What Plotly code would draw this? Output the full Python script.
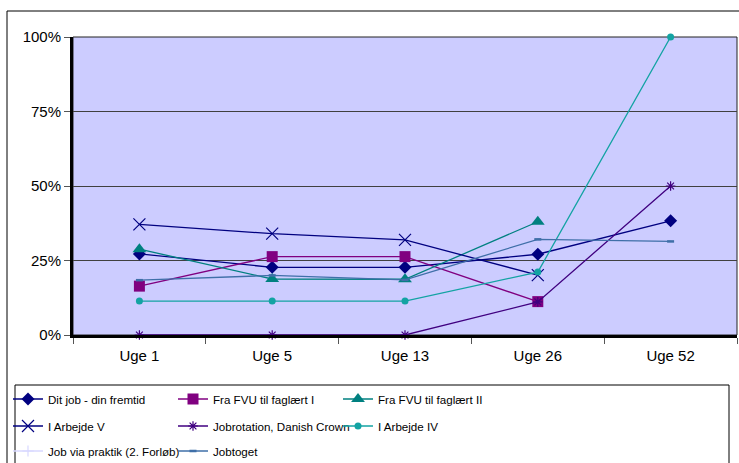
import plotly.graph_objects as go

categories = ["Uge 1", "Uge 5", "Uge 13", "Uge 26", "Uge 52"]

dit_job = [0.272, 0.227, 0.227, 0.271, 0.383]
fvu_1 = [0.164, 0.263, 0.263, 0.112, None]
fvu_2 = [0.288, 0.188, 0.187, 0.380, None]
arbejde_v = [0.371, 0.340, 0.319, 0.201, None]
jobrotation = [0.0, 0.0, 0.0, 0.111, 0.50]
arbejde_iv = [0.114, 0.114, 0.114, 0.211, 1.0]
job_praktik = [None, None, None, None, None]
jobtoget = [0.184, 0.200, 0.185, 0.321, 0.314]

y_ticks = [0, 0.25, 0.5, 0.75, 1.0]
y_tick_labels = ["0%", "25%", "50%", "75%", "100%"]

W, H = 739, 463
L, R, T, B = 73, 2, 37, 128
PW, PH = W - L - R, H - T - B

def px_x(p):
    return (p - L) / PW

def px_y(p):
    return (H - B - p) / PH

FONT = "Liberation Sans, Arial, sans-serif"
LEG_FONT = "Liberation Sans Narrow, Arial Narrow, Liberation Sans, Arial, sans-serif"

series = [
    ("Dit job - din fremtid", dit_job, "#000080", "diamond", 10, 1.3, "legend"),
    ("Fra FVU til faglært I", fvu_1, "#800080", "square", 11, 1.3, "legend"),
    ("Fra FVU til faglært II", fvu_2, "#008080", "triangle-up", 12, 1.3, "legend"),
    ("I Arbejde V", arbejde_v, "#000080", "x-thin-open", 12, 1.3, "legend2"),
    ("Jobrotation, Danish Crown", jobrotation, "#400080", "asterisk-open", 8, 1.3, "legend2"),
    ("I Arbejde IV", arbejde_iv, "#13A3A3", "circle", 7, 1.3, "legend2"),
    ("Job via praktik (2. Forløb)", job_praktik, "#D8D8FF", "cross-thin-open", 8, 1.3, "legend3"),
    ("Jobtoget", jobtoget, "#3F6FA8", "line-ew-open", 5, 1.3, "legend3"),
]

fig = go.Figure()
for name, vals, color, sym, size, lw, leg in series:
    open_sym = sym.endswith("open")
    fig.add_trace(go.Scatter(
        x=categories, y=vals, name=name, mode="lines+markers",
        line=dict(color=color, width=lw),
        marker=dict(symbol=sym, size=size, color=color,
                    line=dict(color=color, width=(2.5 if sym == "line-ew-open" else 1.2) if open_sym else 0)),
        legend=leg, cliponaxis=False, connectgaps=False,
    ))

shapes = [
    dict(type="rect", xref="paper", yref="paper", x0=px_x(7), x1=px_x(760), y0=px_y(480), y1=px_y(11),
         line=dict(color="black", width=1), fillcolor="rgba(0,0,0,0)", layer="below"),
    dict(type="rect", xref="paper", yref="paper", x0=px_x(15), x1=px_x(729), y0=px_y(475), y1=px_y(385),
         line=dict(color="black", width=1), fillcolor="rgba(0,0,0,0)", layer="below"),
    dict(type="rect", xref="paper", yref="paper", x0=0, x1=1, y0=0, y1=1,
         line=dict(color="#222222", width=1), fillcolor="rgba(0,0,0,0)", layer="below"),
]

leg_common = dict(orientation="h", xanchor="left", yanchor="middle",
                  font=dict(family=LEG_FONT, size=11.6, color="black"),
                  bgcolor="rgba(0,0,0,0)", borderwidth=0,
                  entrywidth=120, entrywidthmode="pixels", itemclick=False)

fig.update_layout(
    width=W, height=H,
    margin=dict(l=L, r=R, t=T, b=B, pad=0, autoexpand=False),
    paper_bgcolor="white",
    plot_bgcolor="#CCCCFF",
    font=dict(family=FONT, size=15, color="black"),
    showlegend=True,
    legend=dict(x=px_x(8), y=px_y(399), **leg_common),
    legend2=dict(x=px_x(8), y=px_y(426), **leg_common),
    legend3=dict(x=px_x(8), y=px_y(451), **leg_common),
    shapes=shapes,
    xaxis=dict(
        type="category", range=[-0.5, 4.5], showgrid=False,
        showline=True, linecolor="black", linewidth=3,
        ticks="outside", ticklen=6, tickwidth=1, tickcolor="#555555",
        tickson="boundaries", zeroline=False, ticklabelstandoff=5,
        tickfont=dict(family=FONT, size=15, color="black"),
    ),
    yaxis=dict(
        range=[0, 1], tickvals=y_ticks, ticktext=y_tick_labels,
        showgrid=True, gridcolor="#404040", gridwidth=1,
        showline=True, linecolor="black", linewidth=3,
        ticks="outside", ticklen=6, tickwidth=1, tickcolor="#555555",
        zeroline=False,
        tickfont=dict(family=FONT, size=15, color="black"),
    ),
)

fig.write_html("out.html", config={"displayModeBar": False},
               post_script="document.body.style.margin='0';document.body.style.overflow='hidden';")
